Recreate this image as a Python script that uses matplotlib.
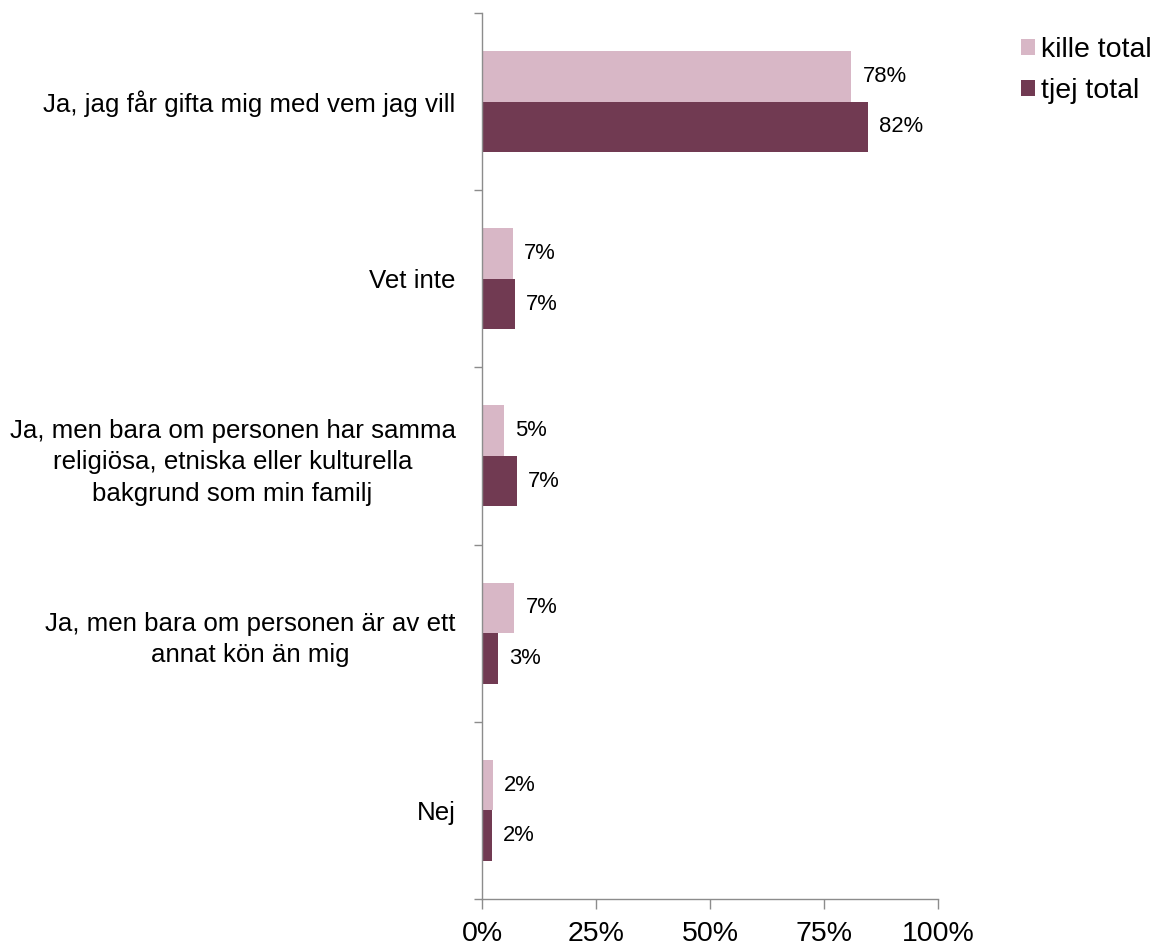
import matplotlib
matplotlib.use('Agg')
import matplotlib.pyplot as plt
import numpy as np

plt.rcParams['font.family'] = ['Liberation Sans', 'DejaVu Sans']

categories = [
    'Ja, jag får gifta mig med vem jag vill',
    'Vet inte',
    'Ja, men bara om personen har samma\nreligiösa, etniska eller kulturella\nbakgrund som min familj',
    'Ja, men bara om personen är av ett\nannat kön än mig',
    'Nej',
]
# bar lengths as drawn (percent on the x axis)
kille = [81.0, 6.8, 4.8, 7.1, 2.4]
tjej = [84.6, 7.2, 7.7, 3.5, 2.1]
# data labels as printed
kille_labels = ['78%', '7%', '5%', '7%', '2%']
tjej_labels = ['82%', '7%', '7%', '3%', '2%']
xticks = [0, 25, 50, 75, 100]

c_kille = '#d8b7c6'
c_tjej = '#713a52'
grey = '#8c8c8c'

fig = plt.figure(figsize=(11.62, 9.47), dpi=100)
ax = fig.add_axes([0.4148, 0.0507, 0.8072 - 0.4148, 0.9863 - 0.0507])

y = np.arange(len(categories))
h = 0.285
ax.barh(y - h / 2, kille, height=h, color=c_kille, label='kille total')
ax.barh(y + h / 2, tjej, height=h, color=c_tjej, label='tjej total')

for i in range(len(categories)):
    ax.annotate(kille_labels[i], (kille[i], y[i] - h / 2), xytext=(8, 0),
                textcoords='offset points', va='center', ha='left', fontsize=15.8)
    ax.annotate(tjej_labels[i], (tjej[i], y[i] + h / 2), xytext=(8, 0),
                textcoords='offset points', va='center', ha='left', fontsize=15.8)

ax.set_xlim(0, 100)
ax.set_ylim(len(categories) - 0.5, -0.5)

ax.set_yticks(y)
ax.set_yticklabels(categories, fontsize=18.6, multialignment='center', linespacing=1.4)
ax.set_yticks(np.arange(len(categories) + 1) - 0.5, minor=True)
ax.tick_params(axis='y', which='major', length=0, pad=19)
ax.tick_params(axis='y', which='minor', length=6, color=grey, width=1)

ax.set_xticks(xticks)
ax.set_xticklabels([f'{t}%' for t in xticks], fontsize=20.5)
ax.tick_params(axis='x', length=7, color=grey, width=1, pad=9)

for s in ['top', 'right']:
    ax.spines[s].set_visible(False)
for s in ['left', 'bottom']:
    ax.spines[s].set_color(grey)
    ax.spines[s].set_linewidth(1)

ax.legend(loc='upper left', bbox_to_anchor=(1.157, 0.986), frameon=False,
          fontsize=20.5, handlelength=0.5, handleheight=0.5, handletextpad=0.2,
          labelspacing=0.55, borderaxespad=0)

plt.savefig('out.png', dpi=100)
plt.close()
